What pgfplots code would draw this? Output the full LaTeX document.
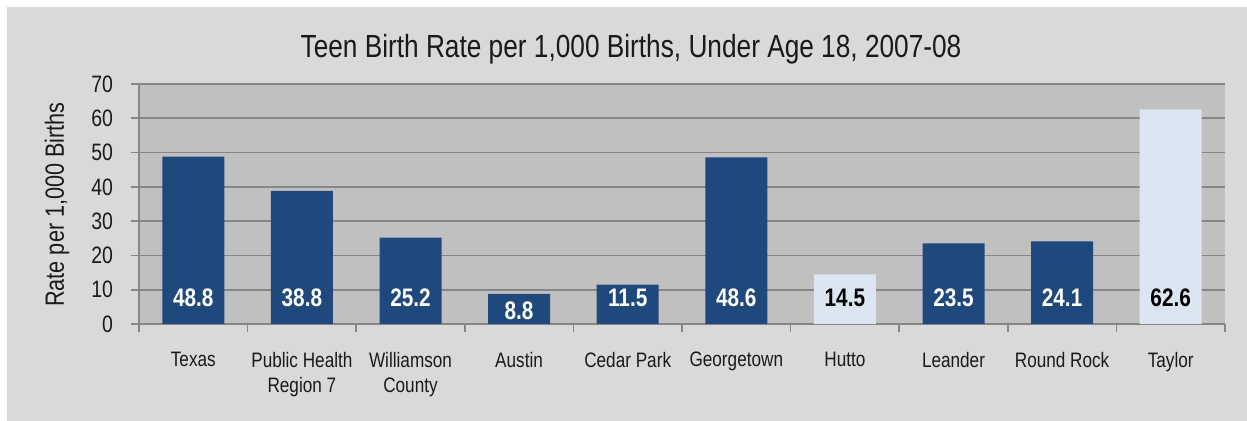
\documentclass[border=0pt]{standalone}
\usepackage{fontspec}
\setmainfont{Liberation Sans}[FakeStretch=0.82]
\usepackage{pgfplots}
\pgfplotsset{compat=1.18}
\definecolor{outerbg}{HTML}{D9D9D9}
\definecolor{plotbg}{HTML}{C0C0C0}
\definecolor{gridc}{HTML}{868686}
\definecolor{darkbar}{HTML}{1F497D}
\definecolor{lightbar}{HTML}{DCE6F2}
\definecolor{txt}{HTML}{1A1A1A}

\pgfplotstableread{
x y
0 48.8
1 38.8
2 25.2
3 8.8
4 11.5
5 48.6
7 23.5
8 24.1
}\darkdata
\pgfplotstableread{
x y
6 14.5
9 62.6
}\lightdata
\pgfplotstableread{
x ly label
0 7.6 48.8
1 7.6 38.8
2 7.6 25.2
3 3.8 8.8
4 7.6 11.5
5 7.6 48.6
7 7.6 23.5
8 7.6 24.1
}\darklabels
\pgfplotstableread{
x ly label
6 7.6 14.5
9 7.6 62.6
}\lightlabels

\begin{document}
\begin{tikzpicture}[x=1pt,y=1pt]
\fill[white] (0,0) rectangle (935.25,315.75);
\fill[outerbg] (5.25,0) rectangle (935.25,310.5);
\node[txt, font=\fontsize{24}{28}\selectfont] at (473.25,279) {Teen Birth Rate per 1,000 Births, Under Age 18, 2007-08};
\node[txt, rotate=90, font=\fontsize{19.8}{23}\selectfont] at (42.75,162.4) {Rate per 1,000 Births};
\begin{axis}[
  at={(104.25pt,72.75pt)}, anchor=south west,
  scale only axis, width=814.5pt, height=180pt,
  xmin=-0.5, xmax=9.5, ymin=0, ymax=70,
  axis background/.style={fill=plotbg},
  axis x line*=bottom, axis y line*=left,
  axis line style={gridc, line width=1.2pt, -},
  ytick={0,10,...,70},
  ymajorgrids, grid style={gridc, line width=1.2pt},
  tick align=outside,
  major tick length=6pt,
  tick style={gridc, line width=1.2pt},
  xtick={-0.5,0.5,...,9.5},
  xticklabels={},
  extra x ticks={0,1,...,9},
  extra x tick style={major tick length=0pt, grid=none},
  extra x tick labels={Texas,{Public Health\\Region 7},{Williamson\\County},Austin,Cedar Park,Georgetown,Hutto,Leander,Round Rock,Taylor},
  xticklabel style={txt, font=\fontsize{15.7}{18.75}\selectfont, align=center, anchor=north, yshift=-17.5pt},
  yticklabel style={txt, font=\fontsize{17.8}{20}\selectfont, xshift=-10pt},
  /pgf/number format/assume math mode=true,
  clip=false,
]
\addplot[ybar, bar width=46.5pt, bar shift=0pt, fill=darkbar, draw=none] table[x=x,y=y] {\darkdata};
\addplot[ybar, bar width=46.5pt, bar shift=0pt, fill=lightbar, draw=none] table[x=x,y=y] {\lightdata};
\addplot[draw=none, mark=none, nodes near coords, point meta=explicit symbolic,
  every node near coord/.style={anchor=center, white, font=\fontsize{19}{22}\selectfont\bfseries}]
  table[x=x,y=ly,meta=label] {\darklabels};
\addplot[draw=none, mark=none, nodes near coords, point meta=explicit symbolic,
  every node near coord/.style={anchor=center, black, font=\fontsize{19}{22}\selectfont\bfseries}]
  table[x=x,y=ly,meta=label] {\lightlabels};
\end{axis}
\end{tikzpicture}
\end{document}
